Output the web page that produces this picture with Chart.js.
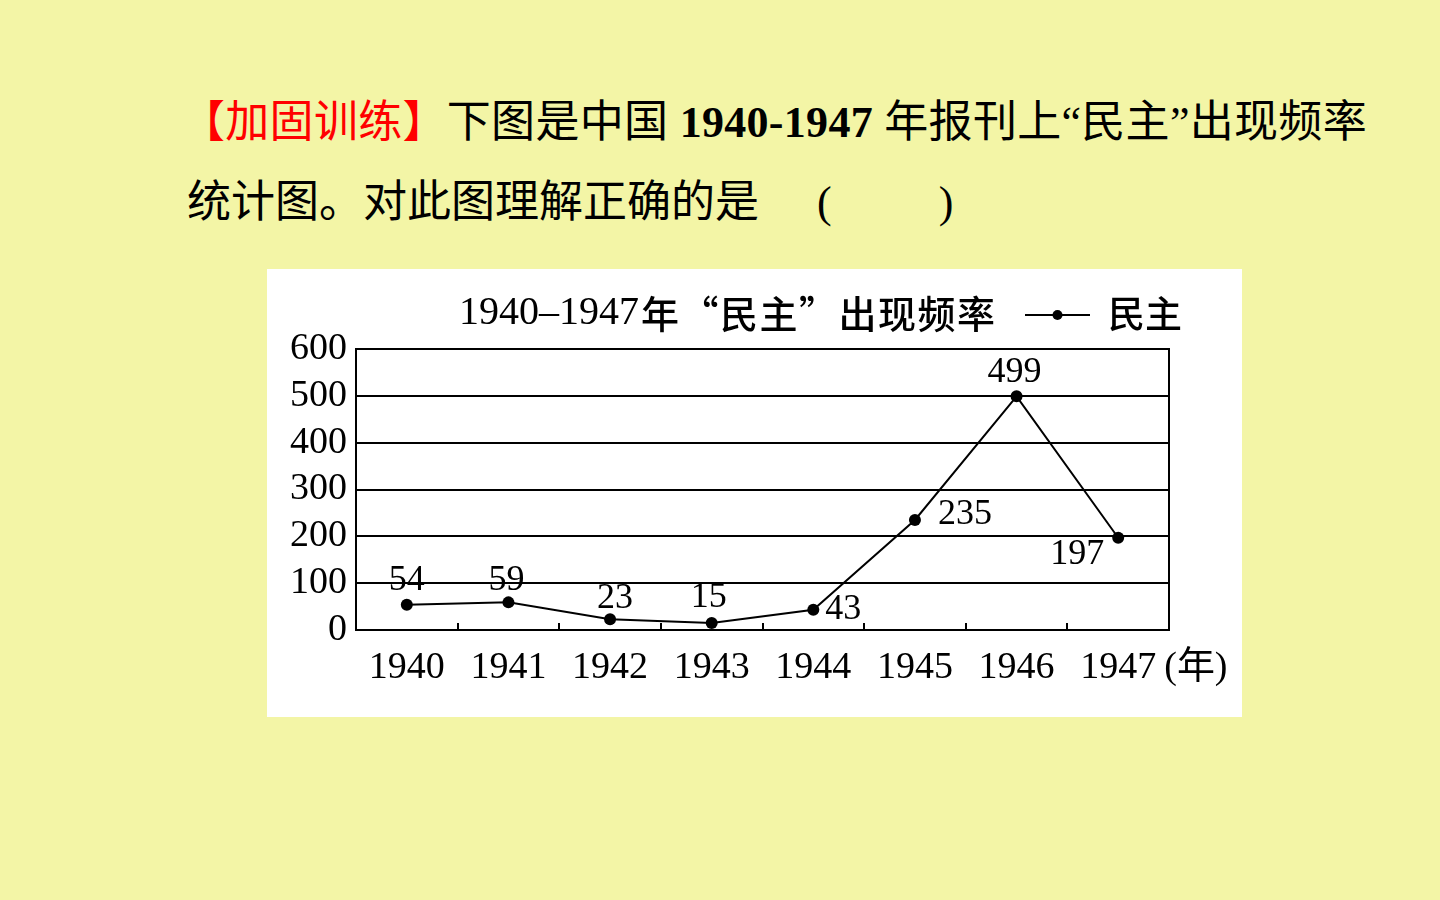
<!DOCTYPE html>
<html lang="zh-CN">
<head>
<meta charset="utf-8">
<title>1940-1947年“民主”出现频率</title>
<script src="https://cdn.jsdelivr.net/npm/chart.js@4.4.1/dist/chart.umd.min.js"></script>
<style>
  html, body { margin: 0; padding: 0; }
  body {
    width: 1440px; height: 900px; position: relative; overflow: hidden;
    background: #f3f5a6;
    font-family: "Liberation Serif", "Noto Sans CJK SC", serif;
  }
  .line { position: absolute; left: 181px; font-size: 44px; line-height: 44px; white-space: nowrap; color: #000; }
  #line1 { top: 101px; letter-spacing: 0.3px; }
  #line2 { top: 181px; left: 187px; }
  .red { color: #f00; }
  .num { font-weight: bold; }
  .open-paren { margin-left: 58px; }
  .close-paren { margin-left: 107px; }
  #chart-box { position: absolute; left: 267px; top: 269px; width: 975px; height: 448px; background: #fff; }
</style>
</head>
<body>
<div class="line" id="line1"><span class="red">【加固训练】</span>下图是中国 <span class="num">1940-1947</span> 年报刊上“民主”出现频率</div>
<div class="line" id="line2">统计图。对此图理解正确的是<span class="open-paren">(</span><span class="close-paren">)</span></div>
<div id="chart-box"><canvas id="freq-chart" width="975" height="448"></canvas></div>

<script>
const years = ["1940", "1941", "1942", "1943", "1944", "1945", "1946", "1947"];
const mentions = [54, 59, 23, 15, 43, 235, 499, 197];
const yTicks = [0, 100, 200, 300, 400, 500, 600];
const seriesName = "民主";
const titleYears = "1940–1947";
const titleRest = "年“民主”出现频率";
const xUnit = "(年)";

// where each value label sits relative to its point (dx, dy)
const labelOffsets = [[0, -24], [-2, -22], [5, -21], [-3, -25], [30, 0], [50, -5], [-2, -24], [-41, 17]];

const serif = "Liberation Serif";
const cjk = "Noto Sans CJK SC";

const valueLabels = {
  id: "valueLabels",
  afterDatasetsDraw(chart) {
    const ctx = chart.ctx;
    const meta = chart.getDatasetMeta(0);
    ctx.save();
    ctx.font = `36px "${serif}"`;
    ctx.fillStyle = "#000";
    ctx.textAlign = "center";
    ctx.textBaseline = "middle";
    meta.data.forEach((pt, i) => {
      const [dx, dy] = labelOffsets[i];
      ctx.fillText(String(mentions[i]), pt.x + dx, pt.y + dy);
    });
    ctx.restore();
  },
};

// title + legend sit on one row above the plot
const headerRow = {
  id: "headerRow",
  afterDraw(chart) {
    const ctx = chart.ctx;
    const ds = chart.data.datasets[0];
    const y = 44;
    ctx.save();
    ctx.fillStyle = "#000";
    ctx.textBaseline = "middle";
    ctx.textAlign = "left";
    let x = 192;
    ctx.font = `40px "${serif}"`;
    ctx.fillText(titleYears, x, y);
    x += ctx.measureText(titleYears).width + 2;
    ctx.font = `500 38px "${cjk}"`;
    ctx.letterSpacing = "1.5px";
    ctx.fillText(titleRest, x, y + 1);
    ctx.letterSpacing = "0px";

    // legend marker: line with a dot
    const mx = 758, mw = 65, my = 46;
    ctx.strokeStyle = ds.borderColor;
    ctx.lineWidth = ds.borderWidth;
    ctx.beginPath();
    ctx.moveTo(mx, my);
    ctx.lineTo(mx + mw, my);
    ctx.stroke();
    ctx.beginPath();
    ctx.arc(mx + mw / 2, my, 5, 0, Math.PI * 2);
    ctx.fillStyle = ds.pointBackgroundColor;
    ctx.fill();
    ctx.fillStyle = "#000";
    ctx.font = `500 37px "${cjk}"`;
    ctx.fillText(seriesName, mx + mw + 18, y + 1);

    // unit after the last year label
    const xs = chart.scales.x;
    ctx.font = `38px "${serif}"`;
    const lastX = xs.getPixelForValue(years.length - 1) + ctx.measureText(years[years.length - 1]).width / 2;
    ctx.fillText(xUnit, lastX + 8, xs.top + 38);
    ctx.restore();
  },
};

const chart = new Chart(document.getElementById("freq-chart"), {
  type: "line",
  data: {
    labels: years,
    datasets: [{
      label: seriesName,
      data: mentions,
      borderColor: "#000",
      borderWidth: 2,
      pointBackgroundColor: "#000",
      pointBorderColor: "#000",
      pointRadius: 6,
      pointBorderWidth: 0,
      tension: 0,
    }],
  },
  options: {
    responsive: false,
    animation: false,
    layout: { padding: { top: 80, left: 0, right: 0, bottom: 0 } },
    plugins: { legend: { display: false }, title: { display: false }, tooltip: { enabled: false } },
    scales: {
      x: {
        offset: true,
        afterFit: (s) => { s.height = 87; },
        ticks: { color: "#000", font: { family: serif, size: 38 }, padding: 22, maxRotation: 0, autoSkip: false },
        grid: { offset: true, color: "#000", lineWidth: 2, drawOnChartArea: false, drawTicks: true, tickLength: -7 },
        border: { display: true, color: "#000", width: 2 },
      },
      y: {
        min: 0,
        max: 600,
        afterBuildTicks: (s) => { s.ticks = yTicks.map((v) => ({ value: v })); },
        afterFit: (s) => { s.width = 89; },
        ticks: { color: "#000", font: { family: serif, size: 38 }, padding: 9, autoSkip: false },
        grid: { color: "#000", lineWidth: 2, drawTicks: false },
        border: { display: true, color: "#000", width: 2 },
      },
      frameRight: {
        type: "linear",
        position: "right",
        afterFit: (s) => { s.width = 73; },
        ticks: { display: false },
        grid: { display: false },
        border: { display: true, color: "#000", width: 2 },
      },
    },
  },
  plugins: [valueLabels, headerRow],
});
</script>
</body>
</html>
